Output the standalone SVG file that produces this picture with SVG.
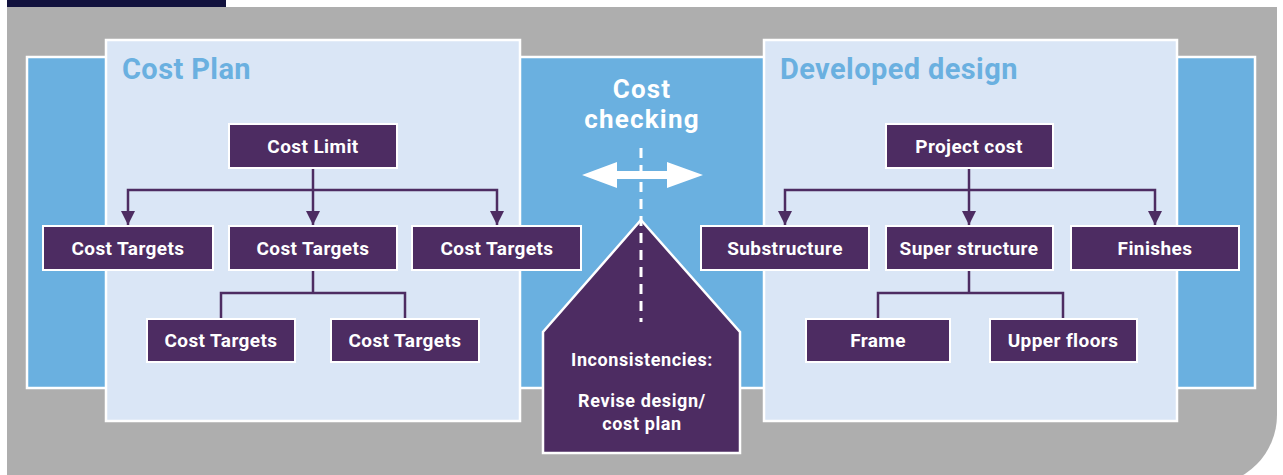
<svg xmlns="http://www.w3.org/2000/svg" width="1283" height="475" viewBox="0 0 1283 475">
<defs>
<style>
.node rect{fill:#4D2C62;stroke:#fff;stroke-width:2}
.node text{fill:#fff;font-family:Roboto,"Liberation Sans",sans-serif;font-weight:700;font-size:19px;letter-spacing:0.4px;text-anchor:middle}
.title{fill:#6AB0E0;font-family:Roboto,"Liberation Sans",sans-serif;font-weight:700;font-size:29px;letter-spacing:0.4px}
.mid{fill:#fff;font-family:Roboto,"Liberation Sans",sans-serif;font-weight:700;text-anchor:middle}
.conn{fill:none;stroke:#4D2C62;stroke-width:2.5}
.panel{fill:#DAE6F6;stroke:#fff;stroke-width:2.5}
</style>
<marker id="arr" viewBox="0 0 14 14" refX="14" refY="7" markerWidth="14" markerHeight="14" markerUnits="userSpaceOnUse" orient="auto-start-reverse">
<path d="M0,0 L14,7 L0,14 Z" fill="#4D2C62"/>
</marker>
</defs>
<rect x="0" y="0" width="1283" height="475" fill="#fff"/>
<rect x="7" y="0" width="219" height="7" fill="#12123E"/>
<path d="M7,7 H1277 V415 A70,70 0 0 1 1207,485 H7 Z" fill="#AEAEAE"/>
<rect x="27" y="57" width="1228" height="331" fill="#6AB0E0" stroke="#fff" stroke-width="2.5"/>
<g id="costplan-panel">
<rect class="panel" x="106" y="40" width="414" height="381"/>
<text class="title" x="122" y="79">Cost Plan</text>
</g>
<g id="design-panel">
<rect class="panel" x="764" y="40" width="413" height="381"/>
<text class="title" x="780" y="79">Developed design</text>
</g>
<g id="connectors">
<path class="conn" d="M313,168 V225" marker-end="url(#arr)"/>
<path class="conn" d="M128,225 V190 H497 V225" marker-start="url(#arr)" marker-end="url(#arr)"/>
<path class="conn" d="M313,270 V293 M221,319 V293 H405 V319"/>
<path class="conn" d="M969,168 V225" marker-end="url(#arr)"/>
<path class="conn" d="M785,225 V190 H1155 V225" marker-start="url(#arr)" marker-end="url(#arr)"/>
<path class="conn" d="M969,270 V293 M878,319 V293 H1063 V319"/>
</g>
<g id="cost-limit" class="node"><rect x="229" y="124" width="168" height="44"/><text x="313" y="153">Cost Limit</text></g>
<g id="ct1" class="node"><rect x="43" y="226" width="170" height="44"/><text x="128" y="255">Cost Targets</text></g>
<g id="ct2" class="node"><rect x="229" y="226" width="168" height="44"/><text x="313" y="255">Cost Targets</text></g>
<g id="ct3" class="node"><rect x="412" y="226" width="169" height="44"/><text x="497" y="255">Cost Targets</text></g>
<g id="ct4" class="node"><rect x="147" y="319" width="148" height="43"/><text x="221" y="347">Cost Targets</text></g>
<g id="ct5" class="node"><rect x="331" y="319" width="148" height="43"/><text x="405" y="347">Cost Targets</text></g>
<g id="project-cost" class="node"><rect x="886" y="124" width="167" height="44"/><text x="969" y="153">Project cost</text></g>
<g id="substructure" class="node"><rect x="701" y="226" width="168" height="44"/><text x="785" y="255">Substructure</text></g>
<g id="superstructure" class="node"><rect x="886" y="226" width="167" height="44"/><text x="969" y="255">Super structure</text></g>
<g id="finishes" class="node"><rect x="1071" y="226" width="168" height="44"/><text x="1155" y="255">Finishes</text></g>
<g id="frame" class="node"><rect x="806" y="319" width="144" height="43"/><text x="878" y="347">Frame</text></g>
<g id="upper-floors" class="node"><rect x="990" y="319" width="147" height="43"/><text x="1063" y="347">Upper floors</text></g>
<g id="cost-checking">
<text class="mid" x="642" y="98" font-size="26" letter-spacing="1.2">Cost</text>
<text class="mid" x="642" y="128" font-size="26" letter-spacing="1.2">checking</text>
<path d="M582,175 L617,162 V171 H667 V162 L703,175 L667,188 V179 H617 V188 Z" fill="#fff"/>
</g>
<g id="inconsistencies">
<path d="M641,220 L740,332 V453 H543 V332 Z" fill="#4D2C62" stroke="#fff" stroke-width="2.5"/>
<text class="mid" x="642" y="366" font-size="18" letter-spacing="0.6">Inconsistencies:</text>
<text class="mid" x="642" y="407" font-size="18" letter-spacing="0.6">Revise design/</text>
<text class="mid" x="642" y="430" font-size="18" letter-spacing="0.6">cost plan</text>
</g>
<line x1="641" y1="148" x2="641" y2="322" stroke="#fff" stroke-width="3" stroke-dasharray="10,7"/>
</svg>
